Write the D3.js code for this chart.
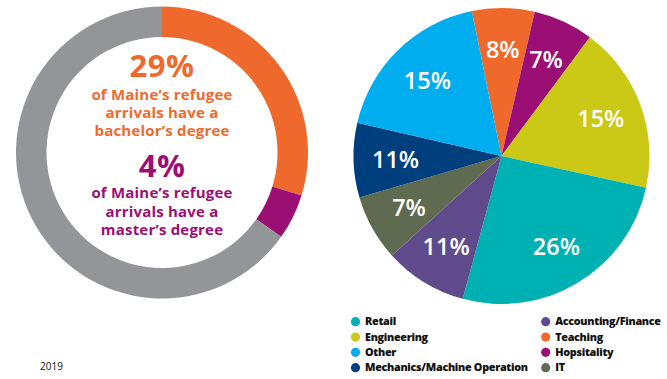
<!DOCTYPE html>
<html><head><meta charset="utf-8">
<script src="https://cdn.jsdelivr.net/npm/d3@7"></script>
<style>
html,body{margin:0;padding:0;background:#fff;}
svg{display:block;}
text{font-family:"Open Sans",sans-serif;}
</style></head>
<body>
<svg id="chart" width="667" height="379"></svg>
<script>
const degreeCategories = ["Bachelor's degree", "Master's degree", "Other"];
const degreeShares = [29.75, 5.05, 65.2];
const degreeColors = ["#f0692c", "#9b0f75", "#939598"];
const bachelorLines = ["of Maine\u2019s refugee", "arrivals have a", "bachelor\u2019s degree"];
const masterLines = ["of Maine\u2019s refugee", "arrivals have a", "master\u2019s degree"];
const bachelorLabel = "29%";
const masterLabel = "4%";

// Pie: occupations, clockwise from the top
const jobCategories = ["Teaching", "Hopsitality", "Engineering", "Retail", "Accounting/Finance", "IT", "Mechanics/Machine Operation", "Other"];
const jobShares = [6.83, 6.58, 18.25, 25.78, 9.06, 7.19, 8.14, 18.17];
const jobLabels = ["8%", "7%", "15%", "26%", "11%", "7%", "11%", "15%"];
const jobColors = ["#f0692c", "#9b0f75", "#cbc816", "#00b1b3", "#5f4b8b", "#5f6b50", "#003f7d", "#00aeef"];

// Legend order
const legendLeft = ["Retail", "Engineering", "Other", "Mechanics/Machine Operation"];
const legendRight = ["Accounting/Finance", "Teaching", "Hopsitality", "IT"];
const yearLabel = "2019";

const svg = d3.select("#chart");
const colorOf = d3.scaleOrdinal().domain(jobCategories).range(jobColors);

// ---- Donut ----
const donutG = svg.append("g").attr("transform", "translate(162,152.5)");
const donutPie = d3.pie().sort(null).value(d => d);
const donutArc = d3.arc().innerRadius(115.5).outerRadius(146);
donutG.selectAll("path").data(donutPie(degreeShares)).join("path")
  .attr("d", donutArc).attr("fill", (d, i) => degreeColors[i]);

const bigFont = "Lato, sans-serif";
donutG.append("text").attr("x", 0).attr("y", -75.5).attr("text-anchor", "middle")
  .attr("font-family", bigFont).attr("fill", degreeColors[0]).attr("font-weight", 700).attr("font-size", 31)
  .attr("letter-spacing", 0.5).text(bachelorLabel);
donutG.append("g").selectAll("text").data(bachelorLines).join("text")
  .attr("x", 0).attr("y", (d, i) => -53 + i * 18.2).attr("text-anchor", "middle")
  .attr("font-family", bigFont).attr("fill", degreeColors[0]).attr("font-weight", 700).attr("font-size", 15)
  .attr("letter-spacing", 0.2).text(d => d);
donutG.append("text").attr("x", 0).attr("y", 24).attr("text-anchor", "middle")
  .attr("font-family", bigFont).attr("fill", degreeColors[1]).attr("font-weight", 700).attr("font-size", 31)
  .attr("letter-spacing", 0.5).text(masterLabel);
donutG.append("g").selectAll("text").data(masterLines).join("text")
  .attr("x", 0).attr("y", (d, i) => 45.8 + i * 18.2).attr("text-anchor", "middle")
  .attr("font-family", bigFont).attr("fill", degreeColors[1]).attr("font-weight", 700).attr("font-size", 15)
  .attr("letter-spacing", 0.2).text(d => d);

// ---- Pie ----
const pieG = svg.append("g").attr("transform", "translate(501.5,156)");
const start = -11.6 * Math.PI / 180;
const jobPie = d3.pie().sort(null).value(d => d).startAngle(start).endAngle(start + 2 * Math.PI);
const pieArc = d3.arc().innerRadius(0).outerRadius(148);
const labelArc = d3.arc().innerRadius(106).outerRadius(106);
const slices = jobPie(jobShares);
pieG.selectAll("path").data(slices).join("path")
  .attr("d", pieArc).attr("fill", (d, i) => colorOf(jobCategories[i]));
pieG.selectAll("text").data(slices).join("text")
  .attr("transform", d => `translate(${labelArc.centroid(d)})`)
  .attr("text-anchor", "middle").attr("dy", "0.36em")
  .attr("fill", "#fff").attr("font-weight", 600).attr("font-size", 23.5)
  .text((d, i) => jobLabels[i]);

// ---- Legend ----
const rowY = d3.scaleLinear().domain([0, 3]).range([321.7, 367.7]);
function legendColumn(items, cx) {
  const g = svg.append("g");
  const rows = g.selectAll("g").data(items).join("g")
    .attr("transform", (d, i) => `translate(${cx},${rowY(i)})`);
  rows.append("circle").attr("r", 4.6).attr("fill", d => colorOf(d));
  rows.append("text").attr("x", 9.5).attr("dy", "0.35em")
    .attr("font-family", "Lato, sans-serif").attr("font-weight", 900).attr("font-size", 10.8)
    .attr("letter-spacing", -0.3)
    .attr("fill", "#111").text(d => d);
}
legendColumn(legendLeft, 355.5);
legendColumn(legendRight, 545.7);

svg.append("text").attr("x", 40).attr("y", 370).attr("font-size", 10).attr("fill", "#111").text(yearLabel);
</script>
</body></html>
